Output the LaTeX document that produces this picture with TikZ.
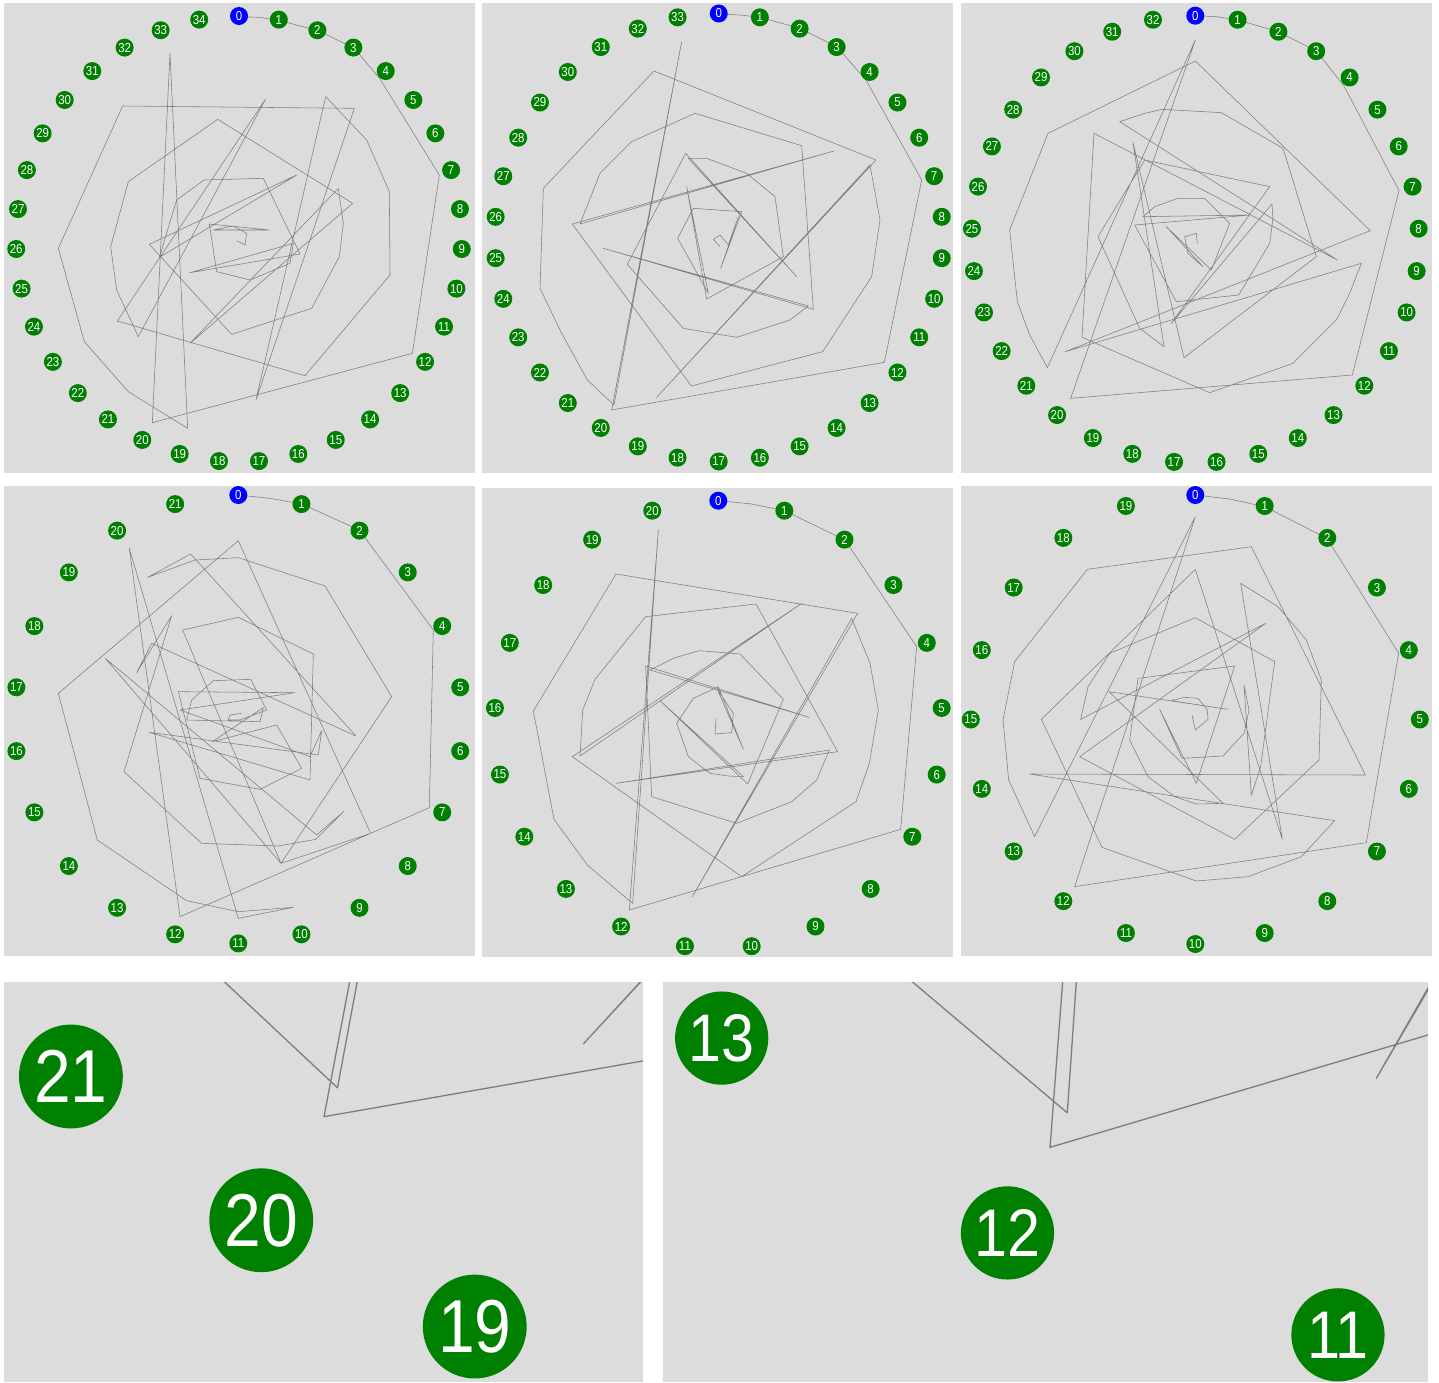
\documentclass[tikz,border=0pt]{standalone}
\usepackage{fontspec}
\newfontfamily\numfont{Liberation Sans}[FakeStretch=0.88]
\definecolor{boardgray}{RGB}{220,220,220}
\definecolor{trailgray}{RGB}{125,125,125}
\definecolor{stepgreen}{RGB}{0,128,0}
\definecolor{startblue}{RGB}{0,0,255}
\tikzset{
  board/.style={fill=boardgray},
  trail/.style={draw=trailgray, line width=0.55pt, line join=round},
  dot/.style={circle, inner sep=0pt, minimum size=18pt, text=white,
    font=\numfont\fontsize{13}{13}\selectfont},
  startdot/.style={dot, fill=startblue},
  stepdot/.style={dot, fill=stepgreen}
}
% un nodo del anillo: nombre, cantidad, centro x, centro y, radio, indice
\newcommand{\ringnode}[6]{%
  \node[stepdot] (#1-#6) at ({#3+#5*sin(360*#6/#2)},{#4-#5*cos(360*#6/#2)}) {#6};
}
% anillo completo
\newcommand{\ring}[5]{%
  \pgfmathtruncatemacro{\ringlast}{#2-1}
  \node[startdot] (#1-0) at (#3,{#4-#5}) {0};
  \foreach \k in {1,...,\ringlast}
    {\ringnode{#1}{#2}{#3}{#4}{#5}{\k}}
}
% recorrido del panel 2
\newcommand{\trailtwo}{%
  \draw[trail, shift={(480,0)}, scale=1/3] plot coordinates {
    (717,42) (780,45) (840,52) (960,85) (1070,140) (1158,240) (1325,540)
    (1213,1087) (395,1230) (605,125) (402,1215) (322,1140) (245,1000)
    (180,865) (190,565) (522,213) (1188,480) (530,1192) (1170,495)
    (1200,660) (1175,830) (1028,1055) (634,1158) (277,672) (1062,453)
    (300,672) (360,520) (455,425) (645,340) (965,437) (1000,928) (370,745)
    (985,918) (930,960) (770,1012) (610,985) (442,793) (617,460) (950,830)
    (625,475) (680,475) (800,520) (885,590) (910,770) (680,897) (620,560)
    (685,880) (593,715) (640,625) (785,635) (722,805) (775,650) (745,735)
    (720,705) (700,718) (720,740)};
}
% recorrido del panel 5
\newcommand{\trailfive}{%
  \draw[trail, shift={(480,480)}, scale=1/3] plot coordinates {
    (715,62) (815,72) (913,92) (1095,180) (1310,500) (1262,1048) (448,1290)
    (535,150) (458,1270) (322,1155) (222,1018) (160,693) (408,282)
    (1133,400) (637,1250) (1115,415) (1170,550) (1195,690) (1168,850)
    (1128,965) (785,1190) (277,830) (965,370) (300,828) (308,690) (345,598)
    (497,410) (828,372) (1073,815) (408,910) (1048,810) (1010,900)
    (935,965) (770,1030) (515,950) (497,558) (988,712) (510,570) (585,533)
    (658,512) (780,522) (910,658) (803,912) (540,662) (790,890) (745,888)
    (690,880) (625,830) (590,730) (640,655) (715,620) (790,808) (712,628)
    (760,700) (755,758) (705,762) (708,715)};
}
\begin{document}
\begin{tikzpicture}[x=1pt, y=-1pt]
    \useasboundingbox (0,0) rectangle (1439,1382);
    \fill[white] (0,0) rectangle (1439,1382);
    % Panel 1 (35 nodos)
    \fill[board] (4,3) rectangle (475,473);
    \draw[trail, scale=1/3] plot coordinates {
      (720,50) (780,52) (840,62) (955,92) (1063,145) (1140,237) (1318,525)
      (1237,1060) (457,1268) (510,160) (563,1285) (385,1175) (253,1025)
      (175,745) (368,318) (1063,325) (768,1200) (977,290) (1100,420)
      (1168,575) (1170,825) (915,1127) (352,963) (797,297) (415,1010)
      (350,870) (332,740) (385,545) (653,358) (1058,610) (570,1030)
      (1015,565) (1030,670) (1018,770) (935,925) (695,1003) (448,733)
      (890,525) (478,772) (530,600) (612,540) (790,535) (900,762) (570,818)
      (880,730) (870,790) (750,840) (650,815) (628,672) (808,690) (640,690)
      (700,678) (740,700) (735,735) (710,722)};
    \ring{a}{35}{239}{239}{223}
    % Panel 2 (34 nodos)
    \fill[board] (482,3) rectangle (953,473);
    \trailtwo
    \ring{b}{34}{718.7}{237.5}{224}
    % Panel 3 (33 nodos)
    \fill[board] (961,3) rectangle (1432,473);
    \draw[trail, shift={(958,0)}, scale=1/3] plot coordinates {
      (712,47) (775,50) (840,60) (960,95) (1075,153) (1158,258) (1323,572)
      (1183,1125) (338,1195) (712,120) (268,1103) (215,1005) (178,905)
      (155,690) (270,400) (712,183) (1237,692) (322,1055) (1210,790)
      (1175,880) (1135,960) (1005,1090) (755,1178) (372,1012) (408,400)
      (1138,780) (485,365) (560,340) (612,328) (790,338) (975,445)
      (1075,770) (678,1073) (525,428) (618,1040) (545,985) (420,710)
      (560,480) (935,560) (640,970) (942,612) (945,655) (935,730) (842,885)
      (655,905) (530,675) (875,645) (555,650) (590,620) (660,595) (740,595)
      (815,670) (760,810) (625,680) (735,800) (690,760) (680,710) (715,700)
      (718,730)};
    \ring{c}{33}{1195.3}{239.3}{223.6}
    % Panel 4 (22 nodos)
    \fill[board] (4,486) rectangle (475,956);
    \draw[trail, shift={(0,480)}, scale=1/3] plot coordinates {
      (715,45) (810,55) (905,72) (1078,150) (1300,450) (1288,983) (540,1310)
      (388,205) (715,1315) (880,1282) (715,1295) (560,1262) (292,1080)
      (175,640) (715,182) (1112,1060) (843,1150) (1175,650) (975,318)
      (715,233) (585,240) (443,292) (572,222) (1068,768) (455,490) (410,578)
      (515,407) (372,875) (605,1090) (835,1098) (948,1078) (1033,993)
      (950,1065) (316,535) (843,1150) (548,450) (715,412) (940,522)
      (930,900) (448,757) (955,825) (965,752) (930,830) (540,690) (885,638)
      (535,635) (600,895) (780,928) (905,865) (830,735) (637,785) (790,683)
      (780,725) (560,720) (575,660) (640,602) (752,598) (800,690) (720,720)
      (685,720) (690,705) (725,700)};
    \ring{d}{22}{238.3}{719.2}{224.2}
    % Panel 5 (21 nodos)
    \fill[board] (482,488) rectangle (953,957);
    \trailfive
    \ring{e}{21}{718.3}{724.7}{224}
    % Panel 6 (20 nodos)
    \fill[board] (961,486) rectangle (1432,956);
    \draw[trail, shift={(958,480)}, scale=1/3] plot coordinates {
      (712,45) (815,57) (920,80) (1107,175) (1322,520) (1225,1088)
      (350,1220) (712,110) (230,1070) (152,900) (135,720) (170,545)
      (388,268) (880,200) (1222,885) (215,882) (1130,1022) (1030,1130)
      (870,1190) (715,1203) (432,1102) (250,718) (712,268) (973,1078)
      (848,310) (960,380) (1045,480) (1090,600) (1083,840) (830,1078)
      (365,830) (923,430) (368,718) (390,620) (455,520) (712,413) (950,545)
      (908,860) (880,945) (858,615) (873,690) (858,760) (795,828) (672,835)
      (605,688) (715,910) (830,558) (540,595) (515,780) (570,890) (650,950)
      (715,972) (795,970) (453,635) (810,688) (640,662) (680,652) (720,655)
      (748,690) (750,718) (712,750) (702,705)};
    \ring{f}{20}{1195.3}{719.5}{224.5}
    % Zoom del panel 2 (nodos 19-21)
    \fill[board] (4,982) rectangle (643,1382);
    \begin{scope}
      \clip (4,982) rectangle (643,1382);
      \begin{scope}[shift={(-3205.3,-1249)}, scale=5.77, transform shape,
          trail/.append style={line width=1.3pt}]
        \trailtwo
        \foreach \k in {19,20,21}
          {\ringnode{zb}{34}{718.7}{237.5}{224}{\k}}
      \end{scope}
    \end{scope}
    % Zoom del panel 5 (nodos 11-13)
    \fill[board] (663,982) rectangle (1428,1382);
    \begin{scope}
      \clip (663,982) rectangle (1428,1382);
      \begin{scope}[shift={(-2209.9,-3566.4)}, scale=5.18, transform shape,
          trail/.append style={line width=1.3pt}]
        \trailfive
        \foreach \k in {11,12,13}
          {\ringnode{ze}{21}{718.3}{724.7}{224}{\k}}
      \end{scope}
    \end{scope}
\end{tikzpicture}
\end{document}
